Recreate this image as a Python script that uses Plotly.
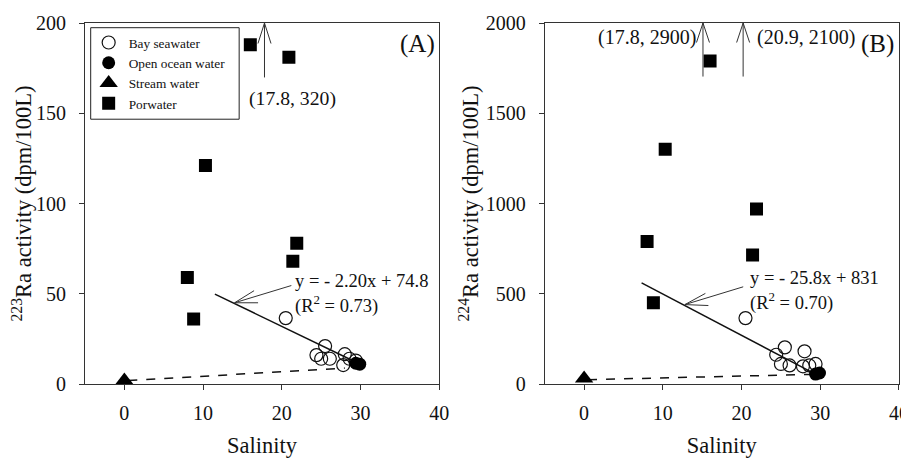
import plotly.graph_objects as go

# ---------------- data ----------------
bay_salinity = [20.5, 25.5, 24.4, 25.0, 26.1, 28.0, 27.8, 28.6, 29.4]
bay_ra223 = [36.5, 21, 16, 14, 14, 16.5, 10.5, 14, 13]
bay_ra224 = [365, 203, 162, 111, 103, 181, 98, 103, 111]

ocean_salinity = [29.4, 29.9]
ocean_ra223 = [11.5, 11.0]
ocean_ra224 = [55, 61]

stream_salinity = [0]
stream_ra223 = [2]
stream_ra224 = [30]

pore_salinity = [16.0, 20.9, 10.3, 21.9, 8.0, 21.4, 8.8, 17.8]
pore_ra223 = [188, 181, 121, 78, 59, 68, 36, 320]
pore_ra224 = [1790, 2100, 1300, 970, 790, 715, 450, 2900]

fit_sal_A = [11.5, 29.5]
fit_ra223 = [49.8, 11.9]
fit_sal_B = [7.3, 29.5]
fit_ra224 = [560, 52]

mix_sal_A = [0.5, 28.0]
mix_ra223 = [1.9, 8.8]
mix_sal_B = [0.5, 28.7]
mix_ra224 = [24, 53]

x_ticks = [0, 10, 20, 30, 40]
y_ticks_A = [0, 50, 100, 150, 200]
y_ticks_B = [0, 500, 1000, 1500, 2000]

FONT = "Liberation Serif, Times New Roman, DejaVu Serif, serif"
INK = "#111111"

fig = go.Figure()

def add_panel(xa, ya, bay_y, ocean_y, stream_y, pore_y, fit_x, fit_y, mix_x, mix_y, legend):
    fig.add_trace(go.Scatter(x=fit_x, y=fit_y, mode="lines", xaxis=xa, yaxis=ya,
                             line=dict(color=INK, width=1.5), showlegend=False, hoverinfo="skip"))
    fig.add_trace(go.Scatter(x=mix_x, y=mix_y, mode="lines", xaxis=xa, yaxis=ya,
                             line=dict(color=INK, width=1.5, dash="dash"), showlegend=False, hoverinfo="skip"))
    fig.add_trace(go.Scatter(x=bay_salinity, y=bay_y, mode="markers", name="Bay seawater",
                             xaxis=xa, yaxis=ya, legendgroup="g1", showlegend=legend,
                             marker=dict(symbol="circle-open", size=13, color=INK, line=dict(width=1.2))))
    fig.add_trace(go.Scatter(x=ocean_salinity, y=ocean_y, mode="markers", name="Open ocean water",
                             xaxis=xa, yaxis=ya, legendgroup="g2", showlegend=legend,
                             marker=dict(symbol="circle", size=13, color="black")))
    fig.add_trace(go.Scatter(x=stream_salinity, y=stream_y, mode="markers", name="Stream water",
                             xaxis=xa, yaxis=ya, legendgroup="g3", showlegend=legend, cliponaxis=False,
                             marker=dict(symbol="triangle-up", size=16, color="black")))
    fig.add_trace(go.Scatter(x=pore_salinity, y=pore_y, mode="markers", name="Porwater",
                             xaxis=xa, yaxis=ya, legendgroup="g4", showlegend=legend,
                             marker=dict(symbol="square", size=13, color="black")))

add_panel("x", "y", bay_ra223, ocean_ra223, stream_ra223, pore_ra223,
          fit_sal_A, fit_ra223, mix_sal_A, mix_ra223, True)
add_panel("x2", "y2", bay_ra224, ocean_ra224, stream_ra224, pore_ra224,
          fit_sal_B, fit_ra224, mix_sal_B, mix_ra224, False)

axis_common = dict(showgrid=False, zeroline=False, showline=True, linecolor="#333333", linewidth=1.2,
                   mirror=True, ticks="outside", ticklen=5, tickwidth=1.2, tickcolor="#333333",
                   automargin=False, tickfont=dict(family=FONT, size=20, color=INK))

# the page body adds an 8px offset, so the figure is 8px smaller and margins shifted
fig.update_layout(
    width=901, height=450,
    margin=dict(l=77, r=9.5, t=15, b=73.7, autoexpand=False),
    paper_bgcolor="white", plot_bgcolor="white",
    font=dict(family=FONT, color=INK),
    xaxis=dict(domain=[0, 0.4352], range=[-5, 40], tickvals=x_ticks, anchor="y",
               ticklabelstandoff=6,
               title=dict(text="Salinity", font=dict(family=FONT, size=22.5, color=INK), standoff=22),
               **axis_common),
    yaxis=dict(domain=[0, 1], range=[0, 200], tickvals=y_ticks_A, anchor="x",
               ticklabelstandoff=9,
               title=dict(text="<sup>223</sup>Ra activity (dpm/100L)",
                          font=dict(family=FONT, size=22.5, color=INK), standoff=0),
               **axis_common),
    xaxis2=dict(domain=[0.5648, 1], range=[-5, 40], tickvals=x_ticks, anchor="y2",
                ticklabelstandoff=6,
                title=dict(text="Salinity", font=dict(family=FONT, size=22.5, color=INK), standoff=22),
                **axis_common),
    yaxis2=dict(domain=[0, 1], range=[0, 2000], tickvals=y_ticks_B, anchor="x2",
                ticklabelstandoff=9,
                title=dict(text="<sup>224</sup>Ra activity (dpm/100L)",
                           font=dict(family=FONT, size=22.5, color=INK), standoff=0),
                **axis_common),
    legend=dict(x=0.0045, y=0.988, xanchor="left", yanchor="top",
                borderwidth=0, bgcolor="rgba(0,0,0,0)",
                font=dict(family=FONT, size=13.3, color=INK),
                traceorder="grouped", tracegroupgap=0),
    showlegend=True,
)

# legend frame (paper coordinates of panel A's plot area)
fig.add_shape(type="rect", xref="paper", yref="paper", x0=0.007, x1=0.1894, y0=0.7335, y1=0.987,
              line=dict(color="#222222", width=1), fillcolor="white", layer="below")

# ---------------- annotations ----------------
ARROW = "#333333"

def arrow(xr, yr, tip, tail, arms):
    fig.add_annotation(x=tip[0], y=tip[1], ax=tail[0], ay=tail[1], xref=xr, yref=yr,
                       axref=xr, ayref=yr, text="", showarrow=True, arrowhead=0,
                       arrowwidth=1, arrowcolor=ARROW, standoff=0, startstandoff=0)
    for dx, dy in arms:
        fig.add_annotation(x=tip[0], y=tip[1], ax=dx, ay=dy, xref=xr, yref=yr,
                           text="", showarrow=True, arrowhead=0, arrowwidth=1,
                           arrowcolor=ARROW, standoff=0, startstandoff=0)

def label(xr, yr, x, y, txt, size, xanchor="left"):
    fig.add_annotation(x=x, y=y, xref=xr, yref=yr, text=txt, showarrow=False,
                       xanchor=xanchor, yanchor="middle",
                       font=dict(family=FONT, size=size, color=INK))

# Panel A
arrow("x", "y", (17.8, 200), (17.8, 169), [(-7, 22), (7, 22)])
label("x", "y", 21.4, 158.3, "(17.8, 320)", 19.7, "center")
arrow("x", "y", (14.0, 45.0), (21.4, 54.8), [(21, -13), (25, 0)])
label("x", "y", 21.4, 57.0, "y = - 2.20x + 74.8", 18.5)
label("x", "y", 21.4, 44.3, "(R<sup>2</sup> = 0.73)", 18.5)
label("x domain", "y domain", 0.938, 0.942, "(A)", 25, "center")

# Panel B
arrow("x2", "y2", (15.1, 2000), (15.1, 1695), [(-7, 21), (7, 21)])
arrow("x2", "y2", (20.2, 2000), (20.2, 1695), [(-7, 21), (7, 21)])
label("x2", "y2", 14.5, 1918, "(17.8, 2900)", 20, "right")
label("x2", "y2", 21.7, 1918, "(20.9, 2100)", 20)
arrow("x2", "y2", (12.8, 440), (20.4, 541), [(22, -12), (25, 1)])
label("x2", "y2", 20.85, 590, "y = - 25.8x + 831", 18.5)
label("x2", "y2", 20.85, 458, "(R<sup>2</sup> = 0.70)", 18.5)
label("x2 domain", "y2 domain", 0.938, 0.942, "(B)", 25, "center")

fig.write_html("out.html")
